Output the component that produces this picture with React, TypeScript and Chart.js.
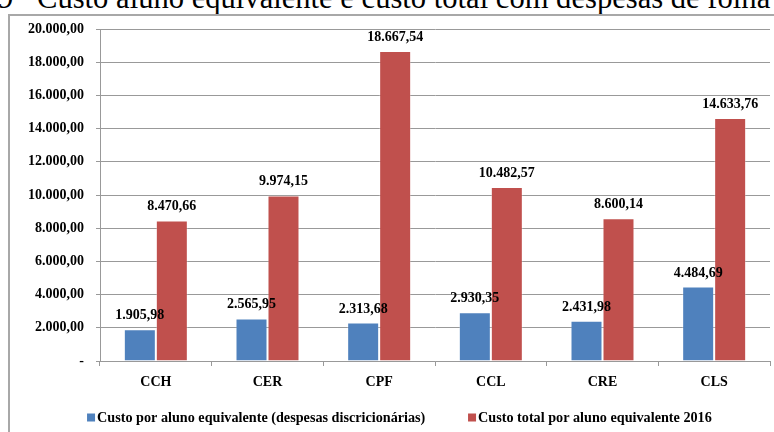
import React, { useEffect, useRef } from 'react';
import { Chart, registerables } from 'chart.js';

Chart.register(...registerables);

// Categories (centros) and the two cost series
const categories = ['CCH', 'CER', 'CPF', 'CCL', 'CRE', 'CLS'];
const custoDiscricionario = [1905.98, 2565.95, 2313.68, 2930.35, 2431.98, 4484.69];
const custoTotal2016 = [8470.66, 9974.15, 18667.54, 10482.57, 8600.14, 14633.76];
const seriesLabels = [
  'Custo por aluno equivalente (despesas discricionárias)',
  'Custo total por aluno equivalente 2016',
];
const seriesColors = ['#4F81BD', '#C0504D'];
const yMin = 0;
const yMax = 20000;
const yStep = 2000;

const FONT = '"Liberation Serif", "Times New Roman", serif';

// Brazilian number format: 18.667,54 ; zero shown as "-"
function formatBR(v: number): string {
  if (v === 0) return '-';
  const [intPart, dec] = Math.abs(v).toFixed(2).split('.');
  return intPart.replace(/\B(?=(\d{3})+(?!\d))/g, '.') + ',' + dec;
}

// Draws the value above each bar
const valueLabels = {
  id: 'valueLabels',
  afterDatasetsDraw(chart: any) {
    const ctx = chart.ctx;
    ctx.save();
    ctx.font = `bold 14px ${FONT}`;
    ctx.fillStyle = '#000';
    ctx.textAlign = 'center';
    ctx.textBaseline = 'alphabetic';
    chart.data.datasets.forEach((ds: any, i: number) => {
      const meta = chart.getDatasetMeta(i);
      meta.data.forEach((bar: any, j: number) => {
        ctx.fillText(formatBR(ds.data[j]), bar.x, bar.y - 10);
      });
    });
    ctx.restore();
  },
};

// Legend row under the axis: small square, tight gap, then the series name
const seriesLegend = {
  id: 'seriesLegend',
  afterDraw(chart: any) {
    const ctx = chart.ctx;
    const { chartArea } = chart;
    const box = 8;
    const textGap = 2;
    const itemGap = 42.7;
    ctx.save();
    ctx.font = `bold 14.2px ${FONT}`;
    ctx.textBaseline = 'middle';
    ctx.textAlign = 'left';
    const items = chart.data.datasets.map((ds: any) => ({
      text: ds.label as string,
      color: ds.backgroundColor as string,
      w: ctx.measureText(ds.label).width,
    }));
    const total = items.reduce(
      (s: number, it: any, i: number) => s + box + textGap + it.w + (i ? itemGap : 0),
      0
    );
    const centerX = (chartArea.left + chartArea.right) / 2 - 35.6;
    const midY = chartArea.bottom + 56.5;
    let x = centerX - total / 2;
    items.forEach((it: any) => {
      ctx.fillStyle = it.color;
      ctx.fillRect(x, midY - box / 2, box, box);
      ctx.fillStyle = '#000';
      ctx.fillText(it.text, x + box + textGap, midY + 0.5);
      x += box + textGap + it.w + itemGap;
    });
    ctx.restore();
  },
};

export default function App() {
  const canvasRef = useRef<HTMLCanvasElement>(null);

  useEffect(() => {
    const canvas = canvasRef.current;
    if (!canvas) return;
    const gridColor = '#999999';
    const chart = new Chart(canvas, {
      type: 'bar',
      data: {
        labels: categories,
        datasets: [
          {
            label: seriesLabels[0],
            data: custoDiscricionario,
            backgroundColor: seriesColors[0],
            borderColor: 'rgba(255,255,255,0.3)',
            borderWidth: 1,
            categoryPercentage: 0.573,
            barPercentage: 1.0,
          },
          {
            label: seriesLabels[1],
            data: custoTotal2016,
            backgroundColor: seriesColors[1],
            borderColor: 'rgba(255,255,255,0.3)',
            borderWidth: 1,
            categoryPercentage: 0.573,
            barPercentage: 1.0,
          },
        ],
      },
      options: {
        responsive: false,
        animation: false,
        devicePixelRatio: 1,
        layout: { padding: { left: 10, right: 4, top: 29, bottom: 39 } },
        plugins: {
          legend: { display: false },
          tooltip: { enabled: false },
          title: { display: false },
        },
        scales: {
          x: {
            afterFit(scale: any) {
              scale.height = 40;
            },
            grid: {
              display: true,
              drawOnChartArea: false,
              drawTicks: true,
              tickLength: 5,
              color: gridColor,
              offset: true,
            },
            border: { display: true, color: gridColor },
            ticks: {
              padding: 8,
              color: '#000',
              font: { family: FONT, size: 14, weight: 'bold' },
            },
          },
          y: {
            min: yMin,
            max: yMax,
            afterFit(scale: any) {
              scale.width = 90;
            },
            grid: {
              color: gridColor,
              drawTicks: true,
              tickLength: 4,
            },
            border: { display: true, color: gridColor },
            ticks: {
              stepSize: yStep,
              padding: 12,
              color: '#000',
              font: { family: FONT, size: 14, weight: 'bold' },
              callback: (v: any) => formatBR(Number(v)),
            },
          },
        },
      },
      plugins: [valueLabels, seriesLegend],
    });
    return () => chart.destroy();
  }, []);

  return (
    <div
      style={{
        position: 'fixed',
        left: 0,
        top: 0,
        width: 774,
        height: 432,
        overflow: 'hidden',
        background: '#fff',
      }}
    >
      <div
        style={{
          position: 'absolute',
          left: 0,
          top: -17,
          width: 900,
          height: 30,
          fontFamily: FONT,
          fontSize: 30.6,
          lineHeight: '30px',
          whiteSpace: 'nowrap',
          color: '#000',
        }}
      >
        <span style={{ position: 'absolute', left: -2 }}>9</span>
        <span style={{ position: 'absolute', left: 37 }}>
          Custo aluno equivalente e custo total com despesas de folha
        </span>
      </div>
      <div
        style={{
          position: 'absolute',
          left: 8,
          top: 14,
          width: 800,
          height: 440,
          border: '2px solid #a8a8a8',
          boxSizing: 'border-box',
        }}
      />
      <canvas
        ref={canvasRef}
        width={774}
        height={440}
        style={{ position: 'absolute', left: 0, top: 0, width: 774, height: 440 }}
      />
    </div>
  );
}
